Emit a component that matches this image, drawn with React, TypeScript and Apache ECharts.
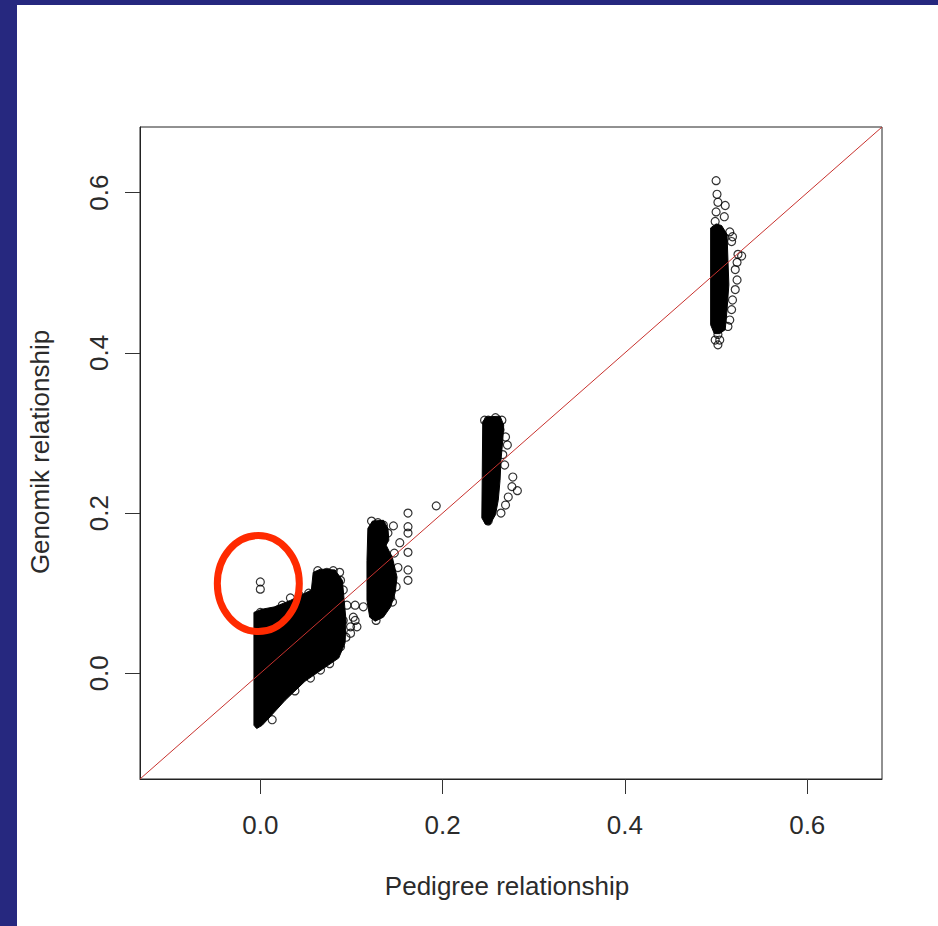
import React, { useEffect, useRef } from "react";
import * as echarts from "echarts";

// ---- axis setup ----
const AXIS_MIN = -0.132;
const AXIS_MAX = 0.682;
const xTicks = [0, 0.2, 0.4, 0.6];
const yTicks = [0, 0.2, 0.4, 0.6];
const xTitle = "Pedigree relationship";
const yTitle = "Genomik relationship";

// ---- dense point clouds (outline of the solid black masses, data units) ----
const clusterUnrelated = [
  [-0.007, 0.076], [0.002, 0.08], [0.016, 0.083], [0.033, 0.091], [0.049, 0.1],
  [0.056, 0.104], [0.058, 0.126], [0.066, 0.13], [0.082, 0.129], [0.09, 0.116],
  [0.092, 0.091], [0.094, 0.066], [0.093, 0.038], [0.086, 0.019], [0.068, 0.005],
  [0.049, -0.01], [0.027, -0.034], [0.011, -0.054], [0.002, -0.065], [-0.004, -0.069],
  [-0.007, -0.065],
];
const clusterCousins = [
  [0.118, 0.181], [0.123, 0.19], [0.135, 0.191], [0.14, 0.181], [0.141, 0.166],
  [0.138, 0.16], [0.145, 0.144], [0.15, 0.12], [0.148, 0.101], [0.143, 0.083],
  [0.135, 0.07], [0.126, 0.065], [0.12, 0.07], [0.117, 0.091], [0.117, 0.141],
];
const clusterHalfSibs = [
  [0.244, 0.314], [0.248, 0.32], [0.263, 0.321], [0.267, 0.31], [0.266, 0.291],
  [0.264, 0.266], [0.263, 0.241], [0.261, 0.216], [0.258, 0.198], [0.252, 0.186],
  [0.247, 0.186], [0.243, 0.194],
];
const clusterFullSibs = [
  [0.494, 0.556], [0.5, 0.561], [0.506, 0.559], [0.512, 0.548], [0.513, 0.516],
  [0.514, 0.485], [0.512, 0.454], [0.51, 0.429], [0.504, 0.424], [0.498, 0.424],
  [0.494, 0.435],
];

// ---- individually visible points (open circles) ----
const pointsUnrelated = [
  [0, 0.114], [0, 0.105], [0, 0.076], [0.014, 0.076], [0.019, 0.079], [0.033, 0.094],
  [0.024, 0.085], [0.043, 0.097], [0.053, 0.1], [0.055, 0.089], [0.063, 0.128],
  [0.073, 0.126], [0.08, 0.128], [0.087, 0.126], [0.088, 0.116], [0.091, 0.104],
  [0.095, 0.085], [0.104, 0.085], [0.113, 0.083], [0.102, 0.07], [0.104, 0.066],
  [0.091, 0.066], [0.099, 0.058], [0.106, 0.058], [0.099, 0.05], [0.094, 0.045],
  [0.088, 0.033], [0.084, 0.029], [0.076, 0.012], [0.066, 0.004], [0.055, -0.006],
  [0.038, -0.022], [0.013, -0.058],
];
const pointsCousins = [
  [0.122, 0.19], [0.129, 0.188], [0.135, 0.185], [0.146, 0.184], [0.14, 0.175],
  [0.153, 0.163], [0.147, 0.15], [0.151, 0.132], [0.149, 0.108], [0.145, 0.089],
  [0.162, 0.2], [0.162, 0.183], [0.162, 0.175], [0.162, 0.151], [0.162, 0.129],
  [0.162, 0.116], [0.143, 0.095], [0.127, 0.066], [0.193, 0.209],
];
const pointsHalfSibs = [
  [0.246, 0.316], [0.25, 0.316], [0.258, 0.319], [0.265, 0.316], [0.263, 0.304],
  [0.269, 0.295], [0.271, 0.285], [0.266, 0.273], [0.268, 0.26], [0.277, 0.245],
  [0.276, 0.233], [0.282, 0.228], [0.272, 0.22], [0.269, 0.21], [0.264, 0.2],
  [0.25, 0.19],
];
const pointsFullSibs = [
  [0.5, 0.615], [0.501, 0.598], [0.502, 0.588], [0.51, 0.584], [0.5, 0.576],
  [0.509, 0.57], [0.499, 0.564], [0.515, 0.551], [0.518, 0.545], [0.517, 0.539],
  [0.524, 0.523], [0.528, 0.521], [0.523, 0.513], [0.521, 0.504], [0.523, 0.491],
  [0.521, 0.479], [0.518, 0.466], [0.517, 0.454], [0.515, 0.441], [0.513, 0.433],
  [0.502, 0.423], [0.504, 0.416], [0.502, 0.41], [0.499, 0.416],
];

// highlighted group (red ellipse annotation), centre in data units
const highlightCenter = [0, 0.112];

const NAVY = "#26287f";
const FONT = "'Liberation Sans', Arial, Helvetica, sans-serif";
const TEXT = "#2b2b2b";

export default function App() {
  const ref = useRef<HTMLDivElement>(null);

  useEffect(() => {
    if (!ref.current) return;
    const chart = echarts.init(ref.current, null, { renderer: "svg" });
    const clusters = [clusterUnrelated, clusterCousins, clusterHalfSibs, clusterFullSibs];
    const points = [...pointsUnrelated, ...pointsCousins, ...pointsHalfSibs, ...pointsFullSibs];

    const option: any = {
      animation: false,
      backgroundColor: "transparent",
      grid: {
        left: 140,
        top: 127,
        right: 56,
        bottom: 147,
        show: true,
        borderColor: "#222",
        borderWidth: 1,
        backgroundColor: "transparent",
      },
      xAxis: {
        type: "value",
        min: AXIS_MIN,
        max: AXIS_MAX,
        axisLine: { show: true, onZero: false, lineStyle: { color: "#222", width: 1 } },
        axisTick: { show: true, length: 15, customValues: xTicks, lineStyle: { color: "#333", width: 1 } },
        axisLabel: {
          customValues: xTicks,
          formatter: (v: number) => v.toFixed(1),
          fontFamily: FONT,
          fontSize: 26,
          color: TEXT,
          margin: 33,
        },
        splitLine: { show: false },
      },
      yAxis: {
        type: "value",
        min: AXIS_MIN,
        max: AXIS_MAX,
        axisLine: { show: true, onZero: false, lineStyle: { color: "#222", width: 1 } },
        axisTick: { show: true, length: 15, customValues: yTicks, lineStyle: { color: "#333", width: 1 } },
        axisLabel: {
          customValues: yTicks,
          formatter: (v: number) => v.toFixed(1),
          fontFamily: FONT,
          fontSize: 26,
          color: TEXT,
          rotate: 90,
          margin: 28,
        },
        splitLine: { show: false },
      },
      graphic: [
        {
          type: "text",
          x: 507,
          y: 886,
          style: {
            text: xTitle,
            fontFamily: FONT,
            fontSize: 26,
            fill: TEXT,
            align: "center",
            verticalAlign: "middle",
          },
        },
        {
          type: "text",
          x: 40,
          y: 452,
          rotation: Math.PI / 2,
          style: {
            text: yTitle,
            fontFamily: FONT,
            fontSize: 26,
            fill: TEXT,
            align: "center",
            verticalAlign: "middle",
          },
        },
      ],
      series: [
        {
          type: "custom",
          name: "dense",
          z: 2,
          silent: true,
          data: clusters.map((c, i) => [c[0][0], c[0][1], i]),
          renderItem: (params: any, api: any) => {
            const poly = clusters[api.value(2)];
            return {
              type: "polygon",
              shape: { points: poly.map((p) => api.coord(p)) },
              style: { fill: "#000", stroke: "#000", lineWidth: 1 },
            };
          },
        },
        {
          type: "scatter",
          name: "pairs",
          z: 3,
          symbol: "circle",
          symbolSize: 8,
          data: points,
          itemStyle: { color: "rgba(0,0,0,0)", borderColor: "#000", borderWidth: 1.2 },
        },
        {
          type: "line",
          name: "y = x",
          z: 4,
          symbol: "none",
          data: [
            [AXIS_MIN, AXIS_MIN],
            [AXIS_MAX, AXIS_MAX],
          ],
          lineStyle: { color: "#c8322e", width: 1 },
        },
        {
          type: "custom",
          name: "highlight",
          z: 5,
          silent: true,
          data: [highlightCenter],
          renderItem: (params: any, api: any) => {
            const c = api.coord([api.value(0), api.value(1)]);
            return {
              type: "ellipse",
              shape: { cx: c[0] - 2, cy: c[1], rx: 41, ry: 48 },
              style: { fill: "none", stroke: "#ff2a00", lineWidth: 7 },
            };
          },
        },
      ],
    };

    chart.setOption(option);
    return () => chart.dispose();
  }, []);

  return (
    <div style={{ position: "fixed", left: 0, top: 0, width: 938, height: 926, background: NAVY }}>
      <div style={{ position: "absolute", left: 17, top: 5, right: 0, bottom: 0, background: "#fff" }} />
      <div ref={ref} style={{ position: "absolute", left: 0, top: 0, width: 938, height: 926 }} />
    </div>
  );
}
